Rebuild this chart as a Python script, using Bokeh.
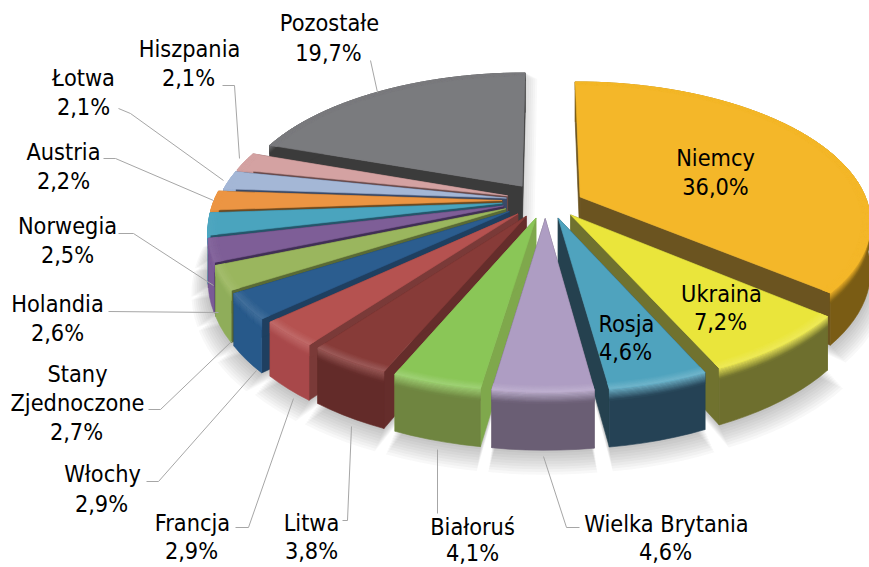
import math
from bokeh.plotting import figure
from bokeh.embed import file_html
from bokeh.resources import INLINE
from bokeh.core.properties import value

names = ["Niemcy","Ukraina","Rosja","Wielka Brytania","Białoruś","Litwa","Francja","Włochy",
         "Stany Zjednoczone","Holandia","Norwegia","Austria","Łotwa","Hiszpania","Pozostałe"]
shares = [36.0,7.2,4.6,4.6,4.1,3.8,2.9,2.9,2.7,2.6,2.5,2.2,2.1,2.1,19.7]
value_labels = ["36,0%","7,2%","4,6%","4,6%","4,1%","3,8%","2,9%","2,9%","2,7%","2,6%","2,5%","2,2%","2,1%","2,1%","19,7%"]

top_colors = ["#F4B729","#EAE53B","#4FA3BE","#AE9DC3","#8AC657","#873B38","#B55250","#2B5D8F",
              "#9AB65E","#7E5E97","#4AA4BE","#EC9543","#A4B7D6","#D4A2A2","#7A7B7E"]
side_colors = ["#7A5C14","#6E6F2E","#254255","#6A5E74","#6F8540","#632B29","#A8484A","#27598A",
               "#8FAD5A","#7A5A96","#45A8C8","#E08A38","#9AB0D2","#CC9A9A","#3B3B3B"]
cut_colors = ["#6B5420","#70722F","#25414F","#5F5468","#7FA84C","#652D2B","#7A3A38","#1F3F60",
              "#5A6A35","#402F55","#24566A","#6E4A20","#3A4A68","#6A4A4A","#3B3B3B"]

# layout of the drawing (pixels of the page)
CX, CY, RX, RY, AX, AY, EXPLODE, DEPTH = 543, 200, 288, 137, 0.17, 0.17, 0.13, 47
slice_dx = [3,4,4,2,3,2,0,-4,-4,-4,-4,-4,0,0,0]
slice_dy = [4,0,0,0,0,0,0,0,0,0,0,0,0,0,0]

# (x, y, text) centred lines of the labels
label_lines = [
 (329,22,"Pozostałe"),(328,52,"19,7%"),(189,48,"Hiszpania"),(188,77,"2,1%"),
 (83,77,"Łotwa"),(83,106,"2,1%"),(63,151,"Austria"),(63,180,"2,2%"),
 (67,225,"Norwegia"),(67,254,"2,5%"),(57,303,"Holandia"),(57,332,"2,6%"),
 (77,373,"Stany"),(77,402,"Zjednoczone"),(76,431,"2,7%"),
 (102,473,"Włochy"),(101,503,"2,9%"),(192,522,"Francja"),(191,550,"2,9%"),
 (311,522,"Litwa"),(311,550,"3,8%"),(472,526,"Białoruś"),(472,552,"4,1%"),
 (666,523,"Wielka Brytania"),(665,551,"4,6%"),
 (715,157,"Niemcy"),(715,186,"36,0%"),(721,293,"Ukraina"),(720,321,"7,2%"),
 (626,323,"Rosja"),(625,351,"4,6%"),
]
leaders = [
 ([370,377],[60,92]),([222,234,239],[85,85,158]),([118,130,223],[108,113,180]),
 ([103,115,213],[158,158,200]),([118,133,213],[233,233,285]),([108,218],[311,312]),
 ([148,160,231],[409,409,341]),([146,158,256],[481,481,370]),([235,248,293],[527,527,398]),
 ([342,347,351],[520,520,426]),([437,437],[513,449]),([579,566,543],[527,527,456]),
]

def rgb(h):
    return tuple(int(h[i:i+2],16) for i in (1,3,5))
def mix(a,b,t):
    a,b=rgb(a),rgb(b)
    return "#%02x%02x%02x"%tuple(round(a[i]+(b[i]-a[i])*t) for i in range(3))

def project(X,Z,h=0.0):
    x = CX + RX*X/(1+AX*Z)
    y = CY - RY*Z/(1+AY*Z) + h*DEPTH/(1+AY*Z)
    return x,y

total = sum(shares)
slices=[]
cum=0.0
for i,s in enumerate(shares):
    a0=cum/total*2*math.pi; cum+=s; a1=cum/total*2*math.pi
    m=(a0+a1)/2
    slices.append(dict(i=i,a0=a0,a1=a1,m=m,ox=EXPLODE*math.sin(m),oz=EXPLODE*math.cos(m),
                       dx=slice_dx[i],dy=slice_dy[i]))

def pt(sl,r,a,h=0.0):
    x,y=project(sl["ox"]+r*math.sin(a),sl["oz"]+r*math.cos(a),h)
    return x+sl["dx"],y+sl["dy"]

def arc(sl,r,h=0.0,rev=False):
    n=max(2,int((sl["a1"]-sl["a0"])/math.radians(2.5)))
    pts=[pt(sl,r,sl["a0"]+(sl["a1"]-sl["a0"])*k/n,h) for k in range(n+1)]
    return pts[::-1] if rev else pts

xs,ys,cols=[],[],[]
def add(poly,c):
    xs.append([q[0] for q in poly]); ys.append([q[1] for q in poly]); cols.append(c)

# soft shadow under the pie
sx,sy,sa=[],[],[]
for sl in slices:
    for d in range(2,20,2):
        lo=arc(sl,1.0+d*0.003,1.0+d/DEPTH*0.55); hi=arc(sl,0.0,1.0)
        sx.append([q[0] for q in lo]+[hi[0][0]]); sy.append([q[1] for q in lo]+[hi[0][1]])
        sa.append(0.035)
# soft shadow thrown into the gap beside the grey slice
grey=slices[-1]
for d in range(2,14,2):
    a=pt(grey,1,0); b=pt(grey,0,0,1)
    sx.append([a[0],a[0]+d,b[0]+d,b[0]]); sy.append([a[1],a[1]+6,b[1]+6,b[1]]); sa.append(0.03)

for sl in sorted(slices,key=lambda s:-math.cos(s["m"])):
    i=sl["i"]; top=top_colors[i]; side=side_colors[i]; cut=cut_colors[i]
    for a in (sl["a0"],sl["a1"]):
        add([pt(sl,0,0),pt(sl,1,a),pt(sl,1,a,1),pt(sl,0,0,1)],cut)
    light=mix(top,"#ffffff",0.18)
    add(arc(sl,1.0)+arc(sl,1.0,1.0,True),side)
    front=max(0.0,-math.cos(sl["m"]))
    n=10
    for k in range(n):
        c=mix(mix(top,light,front),side,(k+0.5)/n)
        add(arc(sl,1.0,0.2*k/n)+arc(sl,1.0,0.2*(k+1)/n,True),c)
    add([pt(sl,0,0)]+arc(sl,1.0),top)
    for k in range(5):
        add(arc(sl,0.97+0.006*k)+arc(sl,0.97+0.006*(k+1),0.0,True),mix(top,light,front*(k+1)/5))

p=figure(width=869,height=567,x_range=(0,869),y_range=(567,0),toolbar_location=None,
         output_backend="svg",min_border=0,outline_line_color=None,background_fill_color="white")
p.axis.visible=False; p.grid.visible=False

p.patches(sx,sy,fill_color="#404040",fill_alpha=sa,line_color=None)
p.patches(xs,ys,fill_color=cols,line_color=cols,line_width=0.6)
for lx,ly in leaders:
    p.line(lx,ly,line_color="#a6a6a6",line_width=1)
p.text([t[0] for t in label_lines],[t[1] for t in label_lines],text=[t[2] for t in label_lines],
       text_font=value("DejaVu Sans Condensed"),text_font_size="23.3px",text_color="#000000",
       text_align="center",text_baseline="middle")

open("out.html","w").write(file_html(p,INLINE))
